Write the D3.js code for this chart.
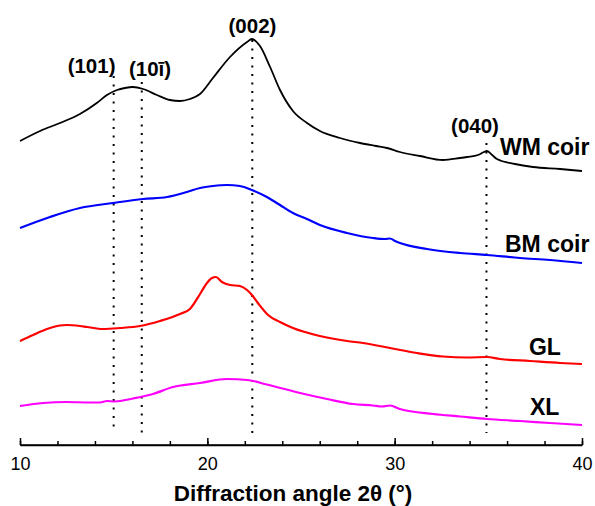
<!DOCTYPE html>
<html><head><meta charset="utf-8">
<script src="https://cdn.jsdelivr.net/npm/d3@7"></script>
<style>body{margin:0;background:#fff}svg{display:block}text{font-family:"Liberation Sans",Arial,sans-serif}</style>
</head><body><div id="chart"></div>
<script>
// 2θ (°) and intensity (a.u.)
const wmCoir = [[10.0,304],[11.07,314],[12.13,322],[13.2,331],[14.1,342],[14.64,350],[15.18,355],[15.6,357],[16.03,358],[16.57,356],[17.31,350],[18.0,345],[18.54,344],[19.07,346],[19.61,351],[20.3,367],[21.21,388],[22.12,403],[22.38,406],[22.81,399],[23.35,378],[23.88,355],[24.57,334],[25.32,322],[26.01,314],[27.08,307],[28.15,302],[29.0,299],[29.59,297],[30.28,293],[31.35,289],[32.58,285],[33.49,287],[33.86,288],[34.45,290],[34.77,293],[34.93,294],[35.2,290],[35.46,286],[36.42,281],[37.38,278],[38.83,276],[40.0,274]];
const bmCoir = [[10.0,217],[11.6,228],[13.2,237],[14.96,242],[16.57,246],[17.85,248],[18.91,253],[19.61,257],[20.3,259],[21.05,260],[21.74,259],[22.38,255],[23.18,248],[23.88,240],[24.57,232],[25.32,226],[26.01,220],[27.46,212],[28.84,207],[29.48,206],[29.75,206.5],[30.02,204],[30.28,202],[31.73,196],[33.49,192],[34.93,190],[36.69,187],[38.29,185],[40.0,182]];
const gl = [[10.0,104],[10.7,110],[11.44,116],[12.13,119.5],[12.5,120],[13.2,119],[13.58,118],[14.43,116],[15.34,117],[16.4,119],[17.47,124],[18.54,131],[19.07,136],[19.61,151],[19.98,162],[20.25,167],[20.46,168],[20.78,163],[21.21,160],[21.74,159],[22.12,155],[22.38,150],[22.7,142],[23.24,130],[23.88,123],[24.57,117],[26.01,109],[27.46,104],[28.31,102],[29.75,97],[31.19,92],[32.58,88.5],[33.86,87.5],[34.93,88],[35.62,86],[37.22,84],[38.83,82],[40.0,81]];
const xl = [[10.0,39],[11.23,42],[12.5,43],[13.74,42.5],[14.27,42.5],[14.64,44],[15.07,43.5],[16.03,46.5],[17.1,51],[18.17,58],[19.61,62],[21.05,66],[22.12,65],[23.18,60.5],[24.95,52],[26.39,46],[27.78,41],[28.84,39.5],[29.32,38.5],[29.75,39.5],[30.28,36],[32.05,31],[33.49,28.5],[34.93,26],[36.69,24],[38.29,22],[40.0,20]];

const seriesNames = ["WM coir","BM coir","GL","XL"];
const seriesColors = ["#000000","#0000ff","#ff0000","#ff00ff"];
const seriesData = [wmCoir,bmCoir,gl,xl];
const seriesLabelPos = [[35.62,290],[35.89,193],[37.17,90],[37.22,30]]; // [2θ, intensity] of label start

const peakLabels = ["(101)","(10ī)","(002)","(040)"];
const peakAngles = [15.0,16.5,22.4,34.9];
const peakTops = [369,363,405,302];
const peakLabelPos = [[13.82,372],[16.94,369],[22.41,412],[34.29,312]];

const xTicksMajor = [10,20,30,40];
const xTicksMinor = d3.range(10,41,2);

const W=595,H=506;
const svg=d3.select("#chart").append("svg").attr("width",W).attr("height",H);
const x=d3.scaleLinear().domain([10,40]).range([20,582]);
const y=d3.scaleLinear().domain([0,445]).range([445,0]);

// dotted reference lines
svg.append("g").selectAll("line").data(peakAngles).join("line")
  .attr("x1",d=>x(d)).attr("x2",d=>x(d))
  .attr("y1",(d,i)=>y(peakTops[i])).attr("y2",y(12))
  .attr("stroke","#000").attr("stroke-width",2).attr("stroke-dasharray","2,6.5");

// curves
const line=d3.line().x(d=>x(d[0])).y(d=>y(d[1])).curve(d3.curveMonotoneX);
svg.append("g").selectAll("path").data(seriesData).join("path")
  .attr("d",line).attr("fill","none").attr("stroke-linejoin","round")
  .attr("stroke",(d,i)=>seriesColors[i]).attr("stroke-width",(d,i)=>i===0?1.8:2.2);

// series labels
svg.append("g").selectAll("text").data(seriesNames).join("text")
  .attr("x",(d,i)=>x(seriesLabelPos[i][0])).attr("y",(d,i)=>y(seriesLabelPos[i][1]))
  .attr("font-size",23).attr("font-weight","bold").text(d=>d);

// peak labels
svg.append("g").selectAll("text").data(peakLabels).join("text")
  .attr("x",(d,i)=>x(peakLabelPos[i][0])).attr("y",(d,i)=>y(peakLabelPos[i][1]))
  .attr("text-anchor","middle").attr("font-size",20.5).attr("font-weight","bold").text(d=>d);

// x axis
const ax=svg.append("g").attr("transform","translate(0,445)");
ax.call(d3.axisBottom(x).tickValues(xTicksMinor).tickSize(-4).tickFormat(""));
ax.call(g=>g.select(".domain").remove());
ax.append("g").call(d3.axisBottom(x).tickValues(xTicksMajor).tickSize(-7).tickSizeOuter(0).tickPadding(12).tickFormat(d3.format("d")))
  .call(g=>g.selectAll("text").attr("font-size",18).attr("fill","#000").attr("font-family","Liberation Sans, Arial, sans-serif"))
  .call(g=>g.selectAll("line,path").attr("stroke","#000").attr("stroke-width",1.5));
ax.selectAll("line").attr("stroke","#000").attr("stroke-width",1.5);
ax.append("line").attr("x1",20).attr("x2",582).attr("stroke","#000").attr("stroke-width",1.5);

svg.append("text").attr("x",293).attr("y",501).attr("text-anchor","middle")
  .attr("font-size",22.5).attr("font-weight","bold").text("Diffraction angle 2θ (°)");
</script></body></html>
